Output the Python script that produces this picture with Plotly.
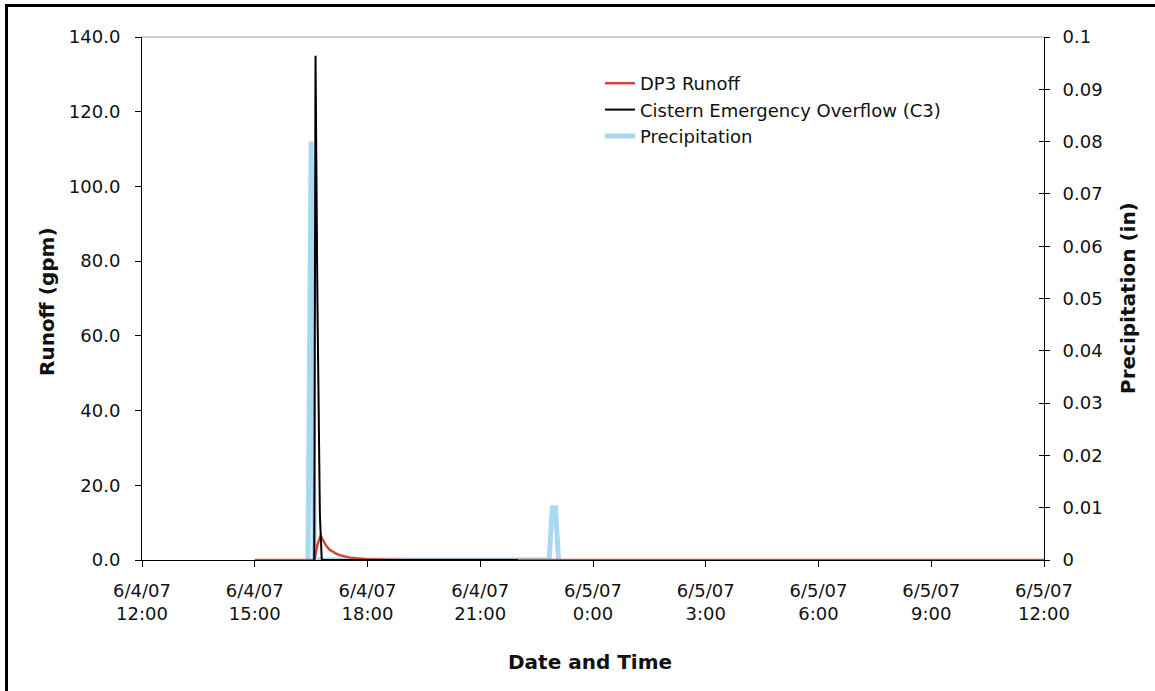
import plotly.graph_objects as go

# ---- data -------------------------------------------------------------
# DP3 runoff (gpm)
runoff_time = ["2007-06-04 15:00", "2007-06-04 16:35", "2007-06-04 16:40",
               "2007-06-04 16:45", "2007-06-04 16:50", "2007-06-04 16:55",
               "2007-06-04 17:00", "2007-06-04 17:05", "2007-06-04 17:10",
               "2007-06-04 17:15", "2007-06-04 17:20", "2007-06-04 17:30",
               "2007-06-04 17:45", "2007-06-04 18:00", "2007-06-04 18:30",
               "2007-06-04 19:00", "2007-06-05 12:00"]
runoff_gpm = [0.0, 0.0, 4.0, 6.5, 5.0, 3.6, 2.7, 2.1, 1.7, 1.35, 1.1, 0.7,
              0.4, 0.2, 0.05, 0.0, 0.0]

# Cistern emergency overflow C3 (gpm)
overflow_time = ["2007-06-04 16:35", "2007-06-04 16:37", "2007-06-04 16:40",
                 "2007-06-04 16:44", "2007-06-04 16:47", "2007-06-04 22:00"]
overflow_gpm = [0.0, 135.0, 70.0, 12.0, 0.0, 0.0]

# Precipitation (in)
precip_time = ["2007-06-04 16:25", "2007-06-04 16:30", "2007-06-04 16:35",
               "2007-06-04 22:50", "2007-06-04 22:55", "2007-06-04 23:00",
               "2007-06-04 23:05"]
precip_in = [0.0, 0.08, 0.0, 0.0, 0.01, 0.01, 0.0]

# axis ticks
x_tickvals = ["2007-06-04 12:00", "2007-06-04 15:00", "2007-06-04 18:00",
              "2007-06-04 21:00", "2007-06-05 00:00", "2007-06-05 03:00",
              "2007-06-05 06:00", "2007-06-05 09:00", "2007-06-05 12:00"]
x_ticktext = ["6/4/07<br>12:00", "6/4/07<br>15:00", "6/4/07<br>18:00",
              "6/4/07<br>21:00", "6/5/07<br>0:00", "6/5/07<br>3:00",
              "6/5/07<br>6:00", "6/5/07<br>9:00", "6/5/07<br>12:00"]

# ---- figure -----------------------------------------------------------
FONT = "DejaVu Sans"
RED = "#D0483A"
BLUE = "#A9D8F1"

W, H = 1155, 691
ML, MR, MT, MB = 142, 111, 37, 131
PW, PH = W - ML - MR, H - MT - MB


def px_x(p):
    return (p - ML) / PW


def px_y(p):
    return (H - MB - p) / PH


fig = go.Figure()

# precipitation drawn underneath the runoff series
fig.add_trace(go.Scatter(x=precip_time, y=precip_in, name="Precipitation",
                         mode="lines", line=dict(color=BLUE, width=5),
                         yaxis="y", legendrank=3))
fig.add_trace(go.Scatter(x=runoff_time, y=runoff_gpm, name="DP3 Runoff",
                         mode="lines", line=dict(color=RED, width=2.5),
                         yaxis="y2", legendrank=1))
fig.add_trace(go.Scatter(x=overflow_time, y=overflow_gpm,
                         name="Cistern Emergency Overflow (C3)",
                         mode="lines", line=dict(color="black", width=2),
                         yaxis="y2", legendrank=2))
# carrier for the inner tick marks of the right axis
fig.add_trace(go.Scatter(x=[None], y=[None], yaxis="y3", showlegend=False,
                         hoverinfo="skip"))

tickfont = dict(family=FONT, size=18, color="#111")

fig.update_layout(
    width=W, height=H,
    margin=dict(l=ML, r=MR, t=MT, b=MB, pad=0),
    paper_bgcolor="white", plot_bgcolor="white",
    font=dict(family=FONT, color="#111"),
    showlegend=True,
    legend=dict(x=px_x(600), y=px_y(65), xanchor="left", yanchor="top",
                bgcolor="rgba(0,0,0,0)", font=dict(family=FONT, size=18),
                tracegroupgap=0, itemwidth=30),
    xaxis=dict(type="date",
               range=["2007-06-04 12:00", "2007-06-05 12:00"],
               tickvals=x_tickvals, ticktext=x_ticktext,
               showgrid=False, zeroline=False,
               showline=True, linecolor="black", linewidth=1,
               ticks="outside", ticklen=6, tickcolor="black",
               tickfont=tickfont, ticklabelstandoff=8),
    # precipitation axis on the right
    yaxis=dict(range=[0, 0.1], dtick=0.01, side="right",
               showgrid=False, zeroline=False,
               showline=True, linecolor="black", linewidth=1,
               ticks="outside", ticklen=5, tickcolor="black",
               tickfont=tickfont, ticklabelstandoff=9),
    # runoff axis on the left, overlaid so its lines draw on top
    yaxis2=dict(range=[0, 140], dtick=20, tickformat=".1f", side="left",
                overlaying="y", showgrid=False, zeroline=False,
                showline=True, linecolor="black", linewidth=1,
                ticks="outside", ticklen=6, tickcolor="black",
                tickfont=tickfont, ticklabelstandoff=11),
    yaxis3=dict(range=[0, 0.1], dtick=0.01, side="right", overlaying="y",
                showgrid=False, zeroline=False, showline=False,
                ticks="inside", ticklen=5, tickcolor="black",
                showticklabels=False),
)

title_font = dict(family=FONT, size=20, color="#111")
fig.add_annotation(text="<b>Runoff (gpm)</b>", textangle=-90,
                   xref="paper", yref="paper", x=px_x(47), y=px_y(302),
                   xanchor="center", yanchor="middle",
                   showarrow=False, font=title_font)
fig.add_annotation(text="<b>Precipitation (in)</b>", textangle=-90,
                   xref="paper", yref="paper", x=px_x(1128), y=px_y(298),
                   xanchor="center", yanchor="middle",
                   showarrow=False, font=title_font)
fig.add_annotation(text="<b>Date and Time</b>",
                   xref="paper", yref="paper", x=px_x(590), y=px_y(662),
                   xanchor="center", yanchor="middle",
                   showarrow=False, font=title_font)

# grey top edge of the plot area
fig.add_shape(type="line", xref="paper", yref="paper",
              x0=0, x1=1, y0=1, y1=1, line=dict(color="#999", width=1))
# outer chart frame
fig.add_shape(type="rect", xref="paper", yref="paper",
              x0=px_x(6.5), x1=px_x(1175), y0=px_y(5.5), y1=px_y(720),
              line=dict(color="black", width=3), layer="above")

fig.write_html("out.html")
